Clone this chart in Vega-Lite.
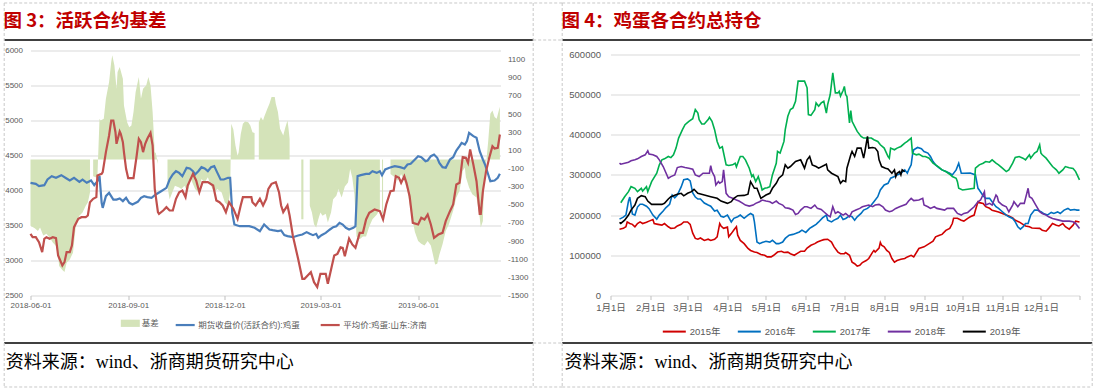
{
  "$schema": "https://vega.github.io/schema/vega-lite/v6.json",
  "background": "white",
  "padding": {"left": 2.5, "top": 1.5, "right": 1, "bottom": 0},
  "autosize": {"type": "pad"},
  "bounds": "flush",
  "spacing": 110,
  "resolve": {"scale": {"color": "independent", "fill": "independent", "stroke": "independent"}, "legend": {"color": "independent", "fill": "independent", "stroke": "independent"}},
  "config": {
    "view": {"stroke": null},
    "font": "Liberation Sans, Noto Sans CJK SC",
    "legend": {"padding": 0, "labelFont": "Liberation Sans, Noto Sans CJK SC"},
    "axis": {"labelFont": "Liberation Sans, Noto Sans CJK SC"}
  },
  "datasets": {
    "basis": [
      {"date": "2018-06-01", "basis": -730}, {"date": "2018-06-05", "basis": -760}, {"date": "2018-06-08", "basis": -790}, {"date": "2018-06-10", "basis": -750},
      {"date": "2018-06-13", "basis": -840}, {"date": "2018-06-16", "basis": -820}, {"date": "2018-06-19", "basis": -860}, {"date": "2018-06-22", "basis": -917},
      {"date": "2018-06-25", "basis": -954}, {"date": "2018-06-27", "basis": -1065}, {"date": "2018-06-28", "basis": -1176}, {"date": "2018-07-01", "basis": -1220},
      {"date": "2018-07-03", "basis": -1242}, {"date": "2018-07-05", "basis": -1139}, {"date": "2018-07-08", "basis": -1102}, {"date": "2018-07-11", "basis": -1028},
      {"date": "2018-07-14", "basis": -696}, {"date": "2018-07-17", "basis": -622}, {"date": "2018-07-20", "basis": -585}, {"date": "2018-07-23", "basis": -512},
      {"date": "2018-07-25", "basis": -475}, {"date": "2018-07-27", "basis": -364}, {"date": "2018-07-28", "basis": null}, {"date": "2018-07-29", "basis": null},
      {"date": "2018-07-30", "basis": -185}, {"date": "2018-08-02", "basis": -200}, {"date": "2018-08-03", "basis": -190}, {"date": "2018-08-05", "basis": 447},
      {"date": "2018-08-06", "basis": 429}, {"date": "2018-08-09", "basis": 447}, {"date": "2018-08-11", "basis": 669}, {"date": "2018-08-14", "basis": 853},
      {"date": "2018-08-16", "basis": 1074}, {"date": "2018-08-17", "basis": 1148}, {"date": "2018-08-19", "basis": 1037}, {"date": "2018-08-21", "basis": 779},
      {"date": "2018-08-22", "basis": 963}, {"date": "2018-08-24", "basis": 1019}, {"date": "2018-08-27", "basis": 890}, {"date": "2018-08-28", "basis": 595},
      {"date": "2018-08-31", "basis": 410}, {"date": "2018-09-02", "basis": 355}, {"date": "2018-09-04", "basis": 373}, {"date": "2018-09-06", "basis": 521},
      {"date": "2018-09-08", "basis": 742}, {"date": "2018-09-11", "basis": 908}, {"date": "2018-09-13", "basis": 669}, {"date": "2018-09-15", "basis": 779},
      {"date": "2018-09-18", "basis": 816}, {"date": "2018-09-20", "basis": 908}, {"date": "2018-09-22", "basis": 816}, {"date": "2018-09-24", "basis": 521},
      {"date": "2018-09-26", "basis": 78}, {"date": "2018-09-27", "basis": 70}, {"date": "2018-09-29", "basis": -52}, {"date": "2018-09-30", "basis": null},
      {"date": "2018-10-07", "basis": null}, {"date": "2018-10-08", "basis": -300}, {"date": "2018-10-10", "basis": -438}, {"date": "2018-10-15", "basis": -290},
      {"date": "2018-10-19", "basis": -310}, {"date": "2018-10-21", "basis": -327}, {"date": "2018-10-24", "basis": -290}, {"date": "2018-10-27", "basis": -364},
      {"date": "2018-10-30", "basis": -217}, {"date": "2018-11-03", "basis": -327}, {"date": "2018-11-06", "basis": -364}, {"date": "2018-11-09", "basis": -217},
      {"date": "2018-11-12", "basis": -254}, {"date": "2018-11-15", "basis": -198}, {"date": "2018-11-18", "basis": -290}, {"date": "2018-11-21", "basis": -364},
      {"date": "2018-11-24", "basis": -327}, {"date": "2018-11-28", "basis": -364}, {"date": "2018-12-01", "basis": -475}, {"date": "2018-12-04", "basis": -512},
      {"date": "2018-12-06", "basis": -364}, {"date": "2018-12-07", "basis": 392}, {"date": "2018-12-09", "basis": 330}, {"date": "2018-12-11", "basis": 152},
      {"date": "2018-12-13", "basis": 41}, {"date": "2018-12-14", "basis": 80}, {"date": "2018-12-16", "basis": 281}, {"date": "2018-12-18", "basis": 392},
      {"date": "2018-12-20", "basis": 418}, {"date": "2018-12-23", "basis": 410}, {"date": "2018-12-25", "basis": 373}, {"date": "2018-12-27", "basis": 300},
      {"date": "2018-12-29", "basis": 290}, {"date": "2018-12-30", "basis": null}, {"date": "2019-01-01", "basis": null}, {"date": "2019-01-02", "basis": 410},
      {"date": "2019-01-04", "basis": 466}, {"date": "2019-01-06", "basis": 429}, {"date": "2019-01-07", "basis": 466}, {"date": "2019-01-10", "basis": 558},
      {"date": "2019-01-12", "basis": 613}, {"date": "2019-01-14", "basis": 687}, {"date": "2019-01-17", "basis": 687}, {"date": "2019-01-18", "basis": 613},
      {"date": "2019-01-20", "basis": 521}, {"date": "2019-01-22", "basis": 337}, {"date": "2019-01-25", "basis": 263}, {"date": "2019-01-27", "basis": 355},
      {"date": "2019-01-29", "basis": 429}, {"date": "2019-01-30", "basis": 337}, {"date": "2019-01-31", "basis": 226}, {"date": "2019-02-01", "basis": null},
      {"date": "2019-02-10", "basis": null}, {"date": "2019-02-11", "basis": -659}, {"date": "2019-02-13", "basis": -659}, {"date": "2019-02-14", "basis": null},
      {"date": "2019-02-18", "basis": null}, {"date": "2019-02-19", "basis": -512}, {"date": "2019-02-21", "basis": -585}, {"date": "2019-02-23", "basis": -714},
      {"date": "2019-02-25", "basis": -751}, {"date": "2019-02-27", "basis": -659}, {"date": "2019-03-01", "basis": -585}, {"date": "2019-03-03", "basis": -622},
      {"date": "2019-03-06", "basis": -600}, {"date": "2019-03-08", "basis": -696}, {"date": "2019-03-11", "basis": -585}, {"date": "2019-03-13", "basis": -438},
      {"date": "2019-03-16", "basis": -400}, {"date": "2019-03-18", "basis": -327}, {"date": "2019-03-21", "basis": -420}, {"date": "2019-03-24", "basis": -300},
      {"date": "2019-03-27", "basis": -254}, {"date": "2019-03-29", "basis": -106}, {"date": "2019-03-31", "basis": -200}, {"date": "2019-04-02", "basis": -383},
      {"date": "2019-04-04", "basis": -850}, {"date": "2019-04-07", "basis": -880}, {"date": "2019-04-10", "basis": -850}, {"date": "2019-04-13", "basis": -850},
      {"date": "2019-04-16", "basis": -740}, {"date": "2019-04-19", "basis": -660}, {"date": "2019-04-23", "basis": -610}, {"date": "2019-04-26", "basis": -550},
      {"date": "2019-04-27", "basis": null}, {"date": "2019-04-28", "basis": -600}, {"date": "2019-04-29", "basis": -600}, {"date": "2019-04-30", "basis": null},
      {"date": "2019-05-05", "basis": null}, {"date": "2019-05-06", "basis": -161}, {"date": "2019-05-10", "basis": -198}, {"date": "2019-05-13", "basis": -235},
      {"date": "2019-05-16", "basis": -161}, {"date": "2019-05-19", "basis": -235}, {"date": "2019-05-22", "basis": -346}, {"date": "2019-05-25", "basis": -567},
      {"date": "2019-05-29", "basis": -800}, {"date": "2019-06-01", "basis": -900}, {"date": "2019-06-04", "basis": -930}, {"date": "2019-06-07", "basis": -950},
      {"date": "2019-06-10", "basis": -900}, {"date": "2019-06-13", "basis": -950}, {"date": "2019-06-15", "basis": -1050}, {"date": "2019-06-17", "basis": -1157},
      {"date": "2019-06-19", "basis": -1150}, {"date": "2019-06-21", "basis": -1050}, {"date": "2019-06-24", "basis": -936}, {"date": "2019-06-27", "basis": -788},
      {"date": "2019-06-30", "basis": -714}, {"date": "2019-07-04", "basis": -567}, {"date": "2019-07-07", "basis": -419}, {"date": "2019-07-10", "basis": -346},
      {"date": "2019-07-13", "basis": -124}, {"date": "2019-07-15", "basis": -90}, {"date": "2019-07-16", "basis": -198}, {"date": "2019-07-19", "basis": -309},
      {"date": "2019-07-22", "basis": -383}, {"date": "2019-07-26", "basis": -419}, {"date": "2019-07-29", "basis": -641}, {"date": "2019-07-30", "basis": -751},
      {"date": "2019-08-01", "basis": -680}, {"date": "2019-08-02", "basis": -235}, {"date": "2019-08-04", "basis": -50}, {"date": "2019-08-06", "basis": 200},
      {"date": "2019-08-08", "basis": 503}, {"date": "2019-08-10", "basis": 540}, {"date": "2019-08-12", "basis": 466}, {"date": "2019-08-14", "basis": 447},
      {"date": "2019-08-16", "basis": 540}, {"date": "2019-08-17", "basis": 580}
    ],
    "futures": [
      {"date": "2018-06-01", "price": 4110}, {"date": "2018-06-06", "price": 4095}, {"date": "2018-06-09", "price": 4062}, {"date": "2018-06-14", "price": 4076},
      {"date": "2018-06-17", "price": 4157}, {"date": "2018-06-21", "price": 4205}, {"date": "2018-06-25", "price": 4181}, {"date": "2018-06-30", "price": 4219},
      {"date": "2018-07-05", "price": 4171}, {"date": "2018-07-08", "price": 4143}, {"date": "2018-07-12", "price": 4181}, {"date": "2018-07-17", "price": 4124},
      {"date": "2018-07-20", "price": 4157}, {"date": "2018-07-24", "price": 4110}, {"date": "2018-07-28", "price": 4143}, {"date": "2018-07-31", "price": 4076},
      {"date": "2018-08-03", "price": 4133}, {"date": "2018-08-05", "price": 4205}, {"date": "2018-08-07", "price": 3824}, {"date": "2018-08-08", "price": 3752},
      {"date": "2018-08-11", "price": 3919}, {"date": "2018-08-14", "price": 3967}, {"date": "2018-08-18", "price": 3871}, {"date": "2018-08-21", "price": 3871},
      {"date": "2018-08-24", "price": 3886}, {"date": "2018-08-27", "price": 3848}, {"date": "2018-08-30", "price": 3895}, {"date": "2018-09-02", "price": 3824},
      {"date": "2018-09-05", "price": 3800}, {"date": "2018-09-10", "price": 3838}, {"date": "2018-09-13", "price": 3895}, {"date": "2018-09-16", "price": 3919},
      {"date": "2018-09-19", "price": 3905}, {"date": "2018-09-23", "price": 3895}, {"date": "2018-09-27", "price": 3943}, {"date": "2018-10-02", "price": 3990},
      {"date": "2018-10-07", "price": 4038}, {"date": "2018-10-10", "price": 4157}, {"date": "2018-10-13", "price": 4229}, {"date": "2018-10-16", "price": 4276},
      {"date": "2018-10-19", "price": 4252}, {"date": "2018-10-22", "price": 4205}, {"date": "2018-10-26", "price": 4324}, {"date": "2018-10-29", "price": 4314},
      {"date": "2018-11-01", "price": 4276}, {"date": "2018-11-03", "price": 4229}, {"date": "2018-11-06", "price": 4276}, {"date": "2018-11-09", "price": 4333},
      {"date": "2018-11-12", "price": 4314}, {"date": "2018-11-15", "price": 4276}, {"date": "2018-11-18", "price": 4333}, {"date": "2018-11-21", "price": 4348},
      {"date": "2018-11-24", "price": 4252}, {"date": "2018-11-27", "price": 4157}, {"date": "2018-11-30", "price": 4157}, {"date": "2018-12-04", "price": 4181},
      {"date": "2018-12-06", "price": 4181}, {"date": "2018-12-08", "price": 3681}, {"date": "2018-12-10", "price": 3514}, {"date": "2018-12-15", "price": 3490},
      {"date": "2018-12-20", "price": 3490}, {"date": "2018-12-24", "price": 3490}, {"date": "2018-12-29", "price": 3467}, {"date": "2019-01-03", "price": 3419},
      {"date": "2019-01-07", "price": 3514}, {"date": "2019-01-12", "price": 3443}, {"date": "2019-01-15", "price": 3433}, {"date": "2019-01-20", "price": 3419},
      {"date": "2019-01-23", "price": 3429}, {"date": "2019-01-26", "price": 3362}, {"date": "2019-01-29", "price": 3348}, {"date": "2019-02-03", "price": 3333},
      {"date": "2019-02-08", "price": 3357}, {"date": "2019-02-12", "price": 3371}, {"date": "2019-02-16", "price": 3405}, {"date": "2019-02-19", "price": 3381},
      {"date": "2019-02-22", "price": 3362}, {"date": "2019-02-25", "price": 3381}, {"date": "2019-02-27", "price": 3324}, {"date": "2019-03-02", "price": 3362},
      {"date": "2019-03-06", "price": 3395}, {"date": "2019-03-10", "price": 3443}, {"date": "2019-03-13", "price": 3476}, {"date": "2019-03-16", "price": 3490},
      {"date": "2019-03-19", "price": 3538}, {"date": "2019-03-22", "price": 3514}, {"date": "2019-03-25", "price": 3467}, {"date": "2019-03-28", "price": 3443},
      {"date": "2019-04-01", "price": 3467}, {"date": "2019-04-03", "price": 3490}, {"date": "2019-04-05", "price": 4205}, {"date": "2019-04-08", "price": 4219},
      {"date": "2019-04-13", "price": 4238}, {"date": "2019-04-16", "price": 4238}, {"date": "2019-04-19", "price": 4276}, {"date": "2019-04-23", "price": 4252},
      {"date": "2019-04-26", "price": 4276}, {"date": "2019-04-28", "price": 4219}, {"date": "2019-05-01", "price": 4300}, {"date": "2019-05-05", "price": 4324},
      {"date": "2019-05-10", "price": 4348}, {"date": "2019-05-15", "price": 4333}, {"date": "2019-05-19", "price": 4314}, {"date": "2019-05-22", "price": 4371},
      {"date": "2019-05-25", "price": 4381}, {"date": "2019-05-29", "price": 4443}, {"date": "2019-06-01", "price": 4490}, {"date": "2019-06-04", "price": 4476},
      {"date": "2019-06-08", "price": 4419}, {"date": "2019-06-10", "price": 4429}, {"date": "2019-06-13", "price": 4490}, {"date": "2019-06-16", "price": 4514},
      {"date": "2019-06-19", "price": 4467}, {"date": "2019-06-21", "price": 4395}, {"date": "2019-06-24", "price": 4333}, {"date": "2019-06-27", "price": 4324},
      {"date": "2019-07-01", "price": 4443}, {"date": "2019-07-04", "price": 4476}, {"date": "2019-07-07", "price": 4571}, {"date": "2019-07-10", "price": 4633},
      {"date": "2019-07-12", "price": 4681}, {"date": "2019-07-15", "price": 4657}, {"date": "2019-07-17", "price": 4705}, {"date": "2019-07-19", "price": 4824},
      {"date": "2019-07-23", "price": 4776}, {"date": "2019-07-26", "price": 4752}, {"date": "2019-07-29", "price": 4562}, {"date": "2019-08-01", "price": 4443},
      {"date": "2019-08-03", "price": 4371}, {"date": "2019-08-06", "price": 4229}, {"date": "2019-08-08", "price": 4133}, {"date": "2019-08-12", "price": 4143},
      {"date": "2019-08-15", "price": 4181}, {"date": "2019-08-17", "price": 4238}
    ],
    "spot": [
      {"date": "2018-06-01", "price": 3381}, {"date": "2018-06-03", "price": 3333}, {"date": "2018-06-06", "price": 3333}, {"date": "2018-06-09", "price": 3262},
      {"date": "2018-06-12", "price": 3119}, {"date": "2018-06-14", "price": 3310}, {"date": "2018-06-16", "price": 3333}, {"date": "2018-06-19", "price": 3310},
      {"date": "2018-06-22", "price": 3333}, {"date": "2018-06-25", "price": 3320}, {"date": "2018-06-27", "price": 3071}, {"date": "2018-06-29", "price": 3000},
      {"date": "2018-07-01", "price": 2929}, {"date": "2018-07-03", "price": 2976}, {"date": "2018-07-05", "price": 3119}, {"date": "2018-07-08", "price": 3119},
      {"date": "2018-07-10", "price": 3214}, {"date": "2018-07-12", "price": 3476}, {"date": "2018-07-16", "price": 3595}, {"date": "2018-07-19", "price": 3619},
      {"date": "2018-07-23", "price": 3619}, {"date": "2018-07-25", "price": 3643}, {"date": "2018-07-27", "price": 3833}, {"date": "2018-07-30", "price": 3881},
      {"date": "2018-08-02", "price": 3905}, {"date": "2018-08-03", "price": 4214}, {"date": "2018-08-07", "price": 4238}, {"date": "2018-08-08", "price": 4262},
      {"date": "2018-08-11", "price": 4548}, {"date": "2018-08-14", "price": 4786}, {"date": "2018-08-16", "price": 5000}, {"date": "2018-08-18", "price": 5000},
      {"date": "2018-08-20", "price": 4833}, {"date": "2018-08-21", "price": 4667}, {"date": "2018-08-24", "price": 4843}, {"date": "2018-08-25", "price": 4810},
      {"date": "2018-08-27", "price": 4690}, {"date": "2018-08-28", "price": 4548}, {"date": "2018-08-30", "price": 4310}, {"date": "2018-09-01", "price": 4176},
      {"date": "2018-09-04", "price": 4176}, {"date": "2018-09-06", "price": 4176}, {"date": "2018-09-09", "price": 4500}, {"date": "2018-09-11", "price": 4738},
      {"date": "2018-09-13", "price": 4690}, {"date": "2018-09-15", "price": 4548}, {"date": "2018-09-17", "price": 4667}, {"date": "2018-09-19", "price": 4738},
      {"date": "2018-09-22", "price": 4824}, {"date": "2018-09-24", "price": 4643}, {"date": "2018-09-26", "price": 4024}, {"date": "2018-09-29", "price": 3690},
      {"date": "2018-09-30", "price": 3667}, {"date": "2018-10-04", "price": 3714}, {"date": "2018-10-07", "price": 3762}, {"date": "2018-10-10", "price": 3714},
      {"date": "2018-10-13", "price": 3714}, {"date": "2018-10-16", "price": 3881}, {"date": "2018-10-19", "price": 3976}, {"date": "2018-10-22", "price": 4000},
      {"date": "2018-10-25", "price": 3905}, {"date": "2018-10-27", "price": 4071}, {"date": "2018-11-01", "price": 4238}, {"date": "2018-11-04", "price": 4143},
      {"date": "2018-11-07", "price": 3976}, {"date": "2018-11-10", "price": 4119}, {"date": "2018-11-15", "price": 4119}, {"date": "2018-11-20", "price": 4071},
      {"date": "2018-11-23", "price": 3857}, {"date": "2018-11-26", "price": 3833}, {"date": "2018-11-29", "price": 3786}, {"date": "2018-12-02", "price": 3690},
      {"date": "2018-12-05", "price": 3833}, {"date": "2018-12-09", "price": 3740}, {"date": "2018-12-13", "price": 3595}, {"date": "2018-12-16", "price": 3790},
      {"date": "2018-12-18", "price": 3905}, {"date": "2018-12-26", "price": 3905}, {"date": "2018-12-27", "price": 3833}, {"date": "2018-12-30", "price": 3786},
      {"date": "2019-01-03", "price": 3881}, {"date": "2019-01-06", "price": 3786}, {"date": "2019-01-09", "price": 3881}, {"date": "2019-01-11", "price": 4024},
      {"date": "2019-01-14", "price": 4095}, {"date": "2019-01-18", "price": 4119}, {"date": "2019-01-21", "price": 3976}, {"date": "2019-01-23", "price": 3786},
      {"date": "2019-01-25", "price": 3690}, {"date": "2019-01-29", "price": 3786}, {"date": "2019-01-31", "price": 3643}, {"date": "2019-02-03", "price": 3357},
      {"date": "2019-02-08", "price": 3024}, {"date": "2019-02-12", "price": 2738}, {"date": "2019-02-14", "price": 2738}, {"date": "2019-02-17", "price": 2786},
      {"date": "2019-02-20", "price": 2833}, {"date": "2019-02-23", "price": 2690}, {"date": "2019-02-26", "price": 2620}, {"date": "2019-03-01", "price": 2810},
      {"date": "2019-03-06", "price": 2810}, {"date": "2019-03-08", "price": 2667}, {"date": "2019-03-14", "price": 3071}, {"date": "2019-03-17", "price": 3095},
      {"date": "2019-03-20", "price": 3190}, {"date": "2019-03-22", "price": 3181}, {"date": "2019-03-24", "price": 3062}, {"date": "2019-03-28", "price": 3314},
      {"date": "2019-03-31", "price": 3229}, {"date": "2019-04-03", "price": 3181}, {"date": "2019-04-07", "price": 3395}, {"date": "2019-04-10", "price": 3395},
      {"date": "2019-04-13", "price": 3586}, {"date": "2019-04-16", "price": 3681}, {"date": "2019-04-21", "price": 3729}, {"date": "2019-04-26", "price": 3705},
      {"date": "2019-04-29", "price": 3586}, {"date": "2019-05-02", "price": 3800}, {"date": "2019-05-06", "price": 3990}, {"date": "2019-05-09", "price": 4000},
      {"date": "2019-05-11", "price": 4205}, {"date": "2019-05-14", "price": 4181}, {"date": "2019-05-16", "price": 4110}, {"date": "2019-05-19", "price": 4205},
      {"date": "2019-05-21", "price": 4110}, {"date": "2019-05-24", "price": 3919}, {"date": "2019-05-27", "price": 3538}, {"date": "2019-06-01", "price": 3514},
      {"date": "2019-06-04", "price": 3610}, {"date": "2019-06-07", "price": 3586}, {"date": "2019-06-10", "price": 3657}, {"date": "2019-06-13", "price": 3514},
      {"date": "2019-06-16", "price": 3324}, {"date": "2019-06-20", "price": 3371}, {"date": "2019-06-24", "price": 3395}, {"date": "2019-06-27", "price": 3562},
      {"date": "2019-07-01", "price": 3705}, {"date": "2019-07-04", "price": 3800}, {"date": "2019-07-07", "price": 4086}, {"date": "2019-07-10", "price": 4110},
      {"date": "2019-07-13", "price": 4476}, {"date": "2019-07-16", "price": 4467}, {"date": "2019-07-18", "price": 4395}, {"date": "2019-07-20", "price": 4586},
      {"date": "2019-07-23", "price": 4371}, {"date": "2019-07-26", "price": 4133}, {"date": "2019-07-29", "price": 3667}, {"date": "2019-07-30", "price": 3667},
      {"date": "2019-08-01", "price": 3990}, {"date": "2019-08-04", "price": 4276}, {"date": "2019-08-07", "price": 4467}, {"date": "2019-08-10", "price": 4633},
      {"date": "2019-08-12", "price": 4600}, {"date": "2019-08-15", "price": 4610}, {"date": "2019-08-17", "price": 4800}
    ],
    "oi": [
      {"date": "2015-01-08", "year": "2015年", "oi": 165000}, {"date": "2015-01-11", "year": "2015年", "oi": 167000}, {"date": "2015-01-13", "year": "2015年", "oi": 171000}, {"date": "2015-01-14", "year": "2015年", "oi": 183000},
      {"date": "2015-01-16", "year": "2015年", "oi": 179000}, {"date": "2015-01-18", "year": "2015年", "oi": 177000}, {"date": "2015-01-20", "year": "2015年", "oi": 171000}, {"date": "2015-01-22", "year": "2015年", "oi": 179000},
      {"date": "2015-01-24", "year": "2015年", "oi": 183000}, {"date": "2015-01-26", "year": "2015年", "oi": 179000}, {"date": "2015-01-29", "year": "2015年", "oi": 182000}, {"date": "2015-01-31", "year": "2015年", "oi": 185000},
      {"date": "2015-02-03", "year": "2015年", "oi": 189000}, {"date": "2015-02-04", "year": "2015年", "oi": 179000}, {"date": "2015-02-07", "year": "2015年", "oi": 177000}, {"date": "2015-02-10", "year": "2015年", "oi": 175000},
      {"date": "2015-02-12", "year": "2015年", "oi": 179000}, {"date": "2015-02-15", "year": "2015年", "oi": 171000}, {"date": "2015-02-17", "year": "2015年", "oi": 167000}, {"date": "2015-02-20", "year": "2015年", "oi": 168000},
      {"date": "2015-02-22", "year": "2015年", "oi": 173000}, {"date": "2015-02-25", "year": "2015年", "oi": 177000}, {"date": "2015-02-27", "year": "2015年", "oi": 183000}, {"date": "2015-03-01", "year": "2015年", "oi": 183000},
      {"date": "2015-03-03", "year": "2015年", "oi": 177000}, {"date": "2015-03-05", "year": "2015年", "oi": 155000}, {"date": "2015-03-07", "year": "2015年", "oi": 142000}, {"date": "2015-03-09", "year": "2015年", "oi": 140000},
      {"date": "2015-03-11", "year": "2015年", "oi": 143000}, {"date": "2015-03-14", "year": "2015年", "oi": 137000}, {"date": "2015-03-17", "year": "2015年", "oi": 140000}, {"date": "2015-03-19", "year": "2015年", "oi": 137000},
      {"date": "2015-03-22", "year": "2015年", "oi": 140000}, {"date": "2015-03-24", "year": "2015年", "oi": 146000}, {"date": "2015-03-26", "year": "2015年", "oi": 179000}, {"date": "2015-03-27", "year": "2015年", "oi": 173000},
      {"date": "2015-03-29", "year": "2015年", "oi": 167000}, {"date": "2015-04-01", "year": "2015年", "oi": 170000}, {"date": "2015-04-02", "year": "2015年", "oi": 146000}, {"date": "2015-04-04", "year": "2015年", "oi": 154000},
      {"date": "2015-04-06", "year": "2015年", "oi": 163000}, {"date": "2015-04-08", "year": "2015年", "oi": 171000}, {"date": "2015-04-09", "year": "2015年", "oi": 150000}, {"date": "2015-04-11", "year": "2015年", "oi": 137000},
      {"date": "2015-04-14", "year": "2015年", "oi": 129000}, {"date": "2015-04-17", "year": "2015年", "oi": 117000}, {"date": "2015-04-19", "year": "2015年", "oi": 112000}, {"date": "2015-04-22", "year": "2015年", "oi": 108000},
      {"date": "2015-04-24", "year": "2015年", "oi": 107000}, {"date": "2015-04-27", "year": "2015年", "oi": 102000}, {"date": "2015-04-30", "year": "2015年", "oi": 100000}, {"date": "2015-05-02", "year": "2015年", "oi": 96000},
      {"date": "2015-05-05", "year": "2015年", "oi": 96000}, {"date": "2015-05-07", "year": "2015年", "oi": 100000}, {"date": "2015-05-10", "year": "2015年", "oi": 108000}, {"date": "2015-05-13", "year": "2015年", "oi": 110000},
      {"date": "2015-05-15", "year": "2015年", "oi": 107000}, {"date": "2015-05-18", "year": "2015年", "oi": 108000}, {"date": "2015-05-20", "year": "2015年", "oi": 104000}, {"date": "2015-05-23", "year": "2015年", "oi": 100000},
      {"date": "2015-05-26", "year": "2015年", "oi": 106000}, {"date": "2015-05-28", "year": "2015年", "oi": 110000}, {"date": "2015-05-31", "year": "2015年", "oi": 110000}, {"date": "2015-06-02", "year": "2015年", "oi": 118000},
      {"date": "2015-06-05", "year": "2015年", "oi": 125000}, {"date": "2015-06-08", "year": "2015年", "oi": 129000}, {"date": "2015-06-10", "year": "2015年", "oi": 133000}, {"date": "2015-06-13", "year": "2015年", "oi": 137000},
      {"date": "2015-06-15", "year": "2015年", "oi": 139000}, {"date": "2015-06-18", "year": "2015年", "oi": 140000}, {"date": "2015-06-21", "year": "2015年", "oi": 133000}, {"date": "2015-06-23", "year": "2015年", "oi": 121000},
      {"date": "2015-06-26", "year": "2015年", "oi": 108000}, {"date": "2015-06-28", "year": "2015年", "oi": 104000}, {"date": "2015-07-01", "year": "2015年", "oi": 104000}, {"date": "2015-07-02", "year": "2015年", "oi": 107000},
      {"date": "2015-07-05", "year": "2015年", "oi": 100000}, {"date": "2015-07-07", "year": "2015年", "oi": 83000}, {"date": "2015-07-09", "year": "2015年", "oi": 79000}, {"date": "2015-07-11", "year": "2015年", "oi": 73000},
      {"date": "2015-07-13", "year": "2015年", "oi": 75000}, {"date": "2015-07-15", "year": "2015年", "oi": 82000}, {"date": "2015-07-18", "year": "2015年", "oi": 87000}, {"date": "2015-07-20", "year": "2015年", "oi": 92000},
      {"date": "2015-07-23", "year": "2015年", "oi": 108000}, {"date": "2015-07-24", "year": "2015年", "oi": 112000}, {"date": "2015-07-25", "year": "2015年", "oi": 108000}, {"date": "2015-07-28", "year": "2015年", "oi": 118000},
      {"date": "2015-07-29", "year": "2015年", "oi": 132000}, {"date": "2015-07-30", "year": "2015年", "oi": 125000}, {"date": "2015-08-01", "year": "2015年", "oi": 121000}, {"date": "2015-08-03", "year": "2015年", "oi": 112000},
      {"date": "2015-08-05", "year": "2015年", "oi": 107000}, {"date": "2015-08-07", "year": "2015年", "oi": 92000}, {"date": "2015-08-09", "year": "2015年", "oi": 83000}, {"date": "2015-08-11", "year": "2015年", "oi": 87000},
      {"date": "2015-08-14", "year": "2015年", "oi": 90000}, {"date": "2015-08-17", "year": "2015年", "oi": 92000}, {"date": "2015-08-19", "year": "2015年", "oi": 96000}, {"date": "2015-08-22", "year": "2015年", "oi": 100000},
      {"date": "2015-08-24", "year": "2015年", "oi": 96000}, {"date": "2015-08-28", "year": "2015年", "oi": 117000}, {"date": "2015-09-01", "year": "2015年", "oi": 121000}, {"date": "2015-09-05", "year": "2015年", "oi": 129000},
      {"date": "2015-09-08", "year": "2015年", "oi": 135000}, {"date": "2015-09-10", "year": "2015年", "oi": 146000}, {"date": "2015-09-13", "year": "2015年", "oi": 150000}, {"date": "2015-09-15", "year": "2015年", "oi": 152000},
      {"date": "2015-09-18", "year": "2015年", "oi": 162000}, {"date": "2015-09-21", "year": "2015年", "oi": 167000}, {"date": "2015-09-23", "year": "2015年", "oi": 179000}, {"date": "2015-09-24", "year": "2015年", "oi": 192000},
      {"date": "2015-09-27", "year": "2015年", "oi": 192000}, {"date": "2015-09-30", "year": "2015年", "oi": 187000}, {"date": "2015-10-02", "year": "2015年", "oi": 185000}, {"date": "2015-10-05", "year": "2015年", "oi": 192000},
      {"date": "2015-10-07", "year": "2015年", "oi": 196000}, {"date": "2015-10-10", "year": "2015年", "oi": 200000}, {"date": "2015-10-11", "year": "2015年", "oi": 212000}, {"date": "2015-10-13", "year": "2015年", "oi": 233000},
      {"date": "2015-10-14", "year": "2015年", "oi": 231000}, {"date": "2015-10-17", "year": "2015年", "oi": 229000}, {"date": "2015-10-19", "year": "2015年", "oi": 221000}, {"date": "2015-10-22", "year": "2015年", "oi": 217000},
      {"date": "2015-10-24", "year": "2015年", "oi": 212000}, {"date": "2015-10-29", "year": "2015年", "oi": 208000}, {"date": "2015-11-01", "year": "2015年", "oi": 204000}, {"date": "2015-11-04", "year": "2015年", "oi": 200000},
      {"date": "2015-11-06", "year": "2015年", "oi": 198000}, {"date": "2015-11-09", "year": "2015年", "oi": 193000}, {"date": "2015-11-11", "year": "2015年", "oi": 187000}, {"date": "2015-11-14", "year": "2015年", "oi": 183000},
      {"date": "2015-11-17", "year": "2015年", "oi": 177000}, {"date": "2015-11-19", "year": "2015年", "oi": 173000}, {"date": "2015-11-22", "year": "2015年", "oi": 171000}, {"date": "2015-11-24", "year": "2015年", "oi": 168000},
      {"date": "2015-11-30", "year": "2015年", "oi": 167000}, {"date": "2015-12-02", "year": "2015年", "oi": 162500}, {"date": "2015-12-05", "year": "2015年", "oi": 160000}, {"date": "2015-12-07", "year": "2015年", "oi": 167000},
      {"date": "2015-12-10", "year": "2015年", "oi": 179000}, {"date": "2015-12-13", "year": "2015年", "oi": 175000}, {"date": "2015-12-15", "year": "2015年", "oi": 173000}, {"date": "2015-12-18", "year": "2015年", "oi": 179000},
      {"date": "2015-12-20", "year": "2015年", "oi": 171000}, {"date": "2015-12-23", "year": "2015年", "oi": 165000}, {"date": "2015-12-26", "year": "2015年", "oi": 175000}, {"date": "2015-12-28", "year": "2015年", "oi": 185000},
      {"date": "2015-12-31", "year": "2015年", "oi": 183000},

      {"date": "2016-01-08", "year": "2016年", "oi": 190000}, {"date": "2016-01-11", "year": "2016年", "oi": 195000}, {"date": "2016-01-13", "year": "2016年", "oi": 200000}, {"date": "2016-01-15", "year": "2016年", "oi": 235000},
      {"date": "2016-01-16", "year": "2016年", "oi": 245000}, {"date": "2016-01-17", "year": "2016年", "oi": 225000}, {"date": "2016-01-18", "year": "2016年", "oi": 203000}, {"date": "2016-01-20", "year": "2016年", "oi": 200000},
      {"date": "2016-01-22", "year": "2016年", "oi": 220000}, {"date": "2016-01-24", "year": "2016年", "oi": 227000}, {"date": "2016-01-26", "year": "2016年", "oi": 227000}, {"date": "2016-01-29", "year": "2016年", "oi": 222000},
      {"date": "2016-01-31", "year": "2016年", "oi": 216000}, {"date": "2016-02-03", "year": "2016年", "oi": 200000}, {"date": "2016-02-06", "year": "2016年", "oi": 190000}, {"date": "2016-02-08", "year": "2016年", "oi": 200000},
      {"date": "2016-02-11", "year": "2016年", "oi": 210000}, {"date": "2016-02-13", "year": "2016年", "oi": 218000}, {"date": "2016-02-16", "year": "2016年", "oi": 227000}, {"date": "2016-02-18", "year": "2016年", "oi": 250000},
      {"date": "2016-02-20", "year": "2016年", "oi": 243000}, {"date": "2016-02-22", "year": "2016年", "oi": 250000}, {"date": "2016-02-25", "year": "2016年", "oi": 270000}, {"date": "2016-02-27", "year": "2016年", "oi": 288000},
      {"date": "2016-03-01", "year": "2016年", "oi": 290000}, {"date": "2016-03-03", "year": "2016年", "oi": 285000}, {"date": "2016-03-05", "year": "2016年", "oi": 255000}, {"date": "2016-03-07", "year": "2016年", "oi": 245000},
      {"date": "2016-03-09", "year": "2016年", "oi": 240000}, {"date": "2016-03-11", "year": "2016年", "oi": 240000}, {"date": "2016-03-14", "year": "2016年", "oi": 230000}, {"date": "2016-03-17", "year": "2016年", "oi": 225000},
      {"date": "2016-03-19", "year": "2016年", "oi": 222000}, {"date": "2016-03-22", "year": "2016年", "oi": 210000}, {"date": "2016-03-24", "year": "2016年", "oi": 212000}, {"date": "2016-03-27", "year": "2016年", "oi": 197000},
      {"date": "2016-03-29", "year": "2016年", "oi": 195000}, {"date": "2016-04-01", "year": "2016年", "oi": 200000}, {"date": "2016-04-04", "year": "2016年", "oi": 183000}, {"date": "2016-04-06", "year": "2016年", "oi": 192000},
      {"date": "2016-04-09", "year": "2016年", "oi": 196000}, {"date": "2016-04-11", "year": "2016年", "oi": 200000}, {"date": "2016-04-14", "year": "2016年", "oi": 192000}, {"date": "2016-04-17", "year": "2016年", "oi": 200000},
      {"date": "2016-04-19", "year": "2016年", "oi": 204000}, {"date": "2016-04-21", "year": "2016年", "oi": 200000}, {"date": "2016-04-22", "year": "2016年", "oi": 183000}, {"date": "2016-04-24", "year": "2016年", "oi": 133000},
      {"date": "2016-04-26", "year": "2016年", "oi": 129000}, {"date": "2016-04-28", "year": "2016年", "oi": 132000}, {"date": "2016-05-01", "year": "2016年", "oi": 135000}, {"date": "2016-05-04", "year": "2016年", "oi": 133000},
      {"date": "2016-05-06", "year": "2016年", "oi": 137500}, {"date": "2016-05-09", "year": "2016年", "oi": 129000}, {"date": "2016-05-11", "year": "2016年", "oi": 129000}, {"date": "2016-05-14", "year": "2016年", "oi": 133000},
      {"date": "2016-05-16", "year": "2016年", "oi": 142000}, {"date": "2016-05-19", "year": "2016年", "oi": 150000}, {"date": "2016-05-22", "year": "2016年", "oi": 152000}, {"date": "2016-05-24", "year": "2016年", "oi": 154000},
      {"date": "2016-05-27", "year": "2016年", "oi": 158000}, {"date": "2016-05-29", "year": "2016年", "oi": 162500}, {"date": "2016-06-01", "year": "2016年", "oi": 157000}, {"date": "2016-06-04", "year": "2016年", "oi": 167000},
      {"date": "2016-06-06", "year": "2016年", "oi": 171000}, {"date": "2016-06-09", "year": "2016年", "oi": 177000}, {"date": "2016-06-11", "year": "2016年", "oi": 183000}, {"date": "2016-06-14", "year": "2016年", "oi": 193000},
      {"date": "2016-06-17", "year": "2016年", "oi": 200000}, {"date": "2016-06-18", "year": "2016年", "oi": 187500}, {"date": "2016-06-21", "year": "2016年", "oi": 183000}, {"date": "2016-06-23", "year": "2016年", "oi": 187500},
      {"date": "2016-06-26", "year": "2016年", "oi": 192000}, {"date": "2016-06-28", "year": "2016年", "oi": 200000}, {"date": "2016-06-30", "year": "2016年", "oi": 189000}, {"date": "2016-07-02", "year": "2016年", "oi": 191700},
      {"date": "2016-07-05", "year": "2016年", "oi": 198300}, {"date": "2016-07-07", "year": "2016年", "oi": 196000}, {"date": "2016-07-09", "year": "2016年", "oi": 187500}, {"date": "2016-07-11", "year": "2016年", "oi": 195800},
      {"date": "2016-07-14", "year": "2016年", "oi": 204200}, {"date": "2016-07-16", "year": "2016年", "oi": 212500}, {"date": "2016-07-19", "year": "2016年", "oi": 216700}, {"date": "2016-07-22", "year": "2016年", "oi": 225000},
      {"date": "2016-07-24", "year": "2016年", "oi": 233300}, {"date": "2016-07-27", "year": "2016年", "oi": 245800}, {"date": "2016-07-29", "year": "2016年", "oi": 262500}, {"date": "2016-08-01", "year": "2016年", "oi": 275000},
      {"date": "2016-08-04", "year": "2016年", "oi": 279200}, {"date": "2016-08-06", "year": "2016年", "oi": 291700}, {"date": "2016-08-09", "year": "2016年", "oi": 295800}, {"date": "2016-08-11", "year": "2016年", "oi": 300000},
      {"date": "2016-08-14", "year": "2016年", "oi": 304200}, {"date": "2016-08-17", "year": "2016年", "oi": 312500}, {"date": "2016-08-19", "year": "2016年", "oi": 304200}, {"date": "2016-08-20", "year": "2016年", "oi": 312500},
      {"date": "2016-08-22", "year": "2016年", "oi": 325000}, {"date": "2016-08-23", "year": "2016年", "oi": 350000}, {"date": "2016-08-24", "year": "2016年", "oi": 362500}, {"date": "2016-08-27", "year": "2016年", "oi": 368300},
      {"date": "2016-08-30", "year": "2016年", "oi": 365000}, {"date": "2016-09-01", "year": "2016年", "oi": 358300}, {"date": "2016-09-04", "year": "2016年", "oi": 354200}, {"date": "2016-09-06", "year": "2016年", "oi": 345800},
      {"date": "2016-09-08", "year": "2016年", "oi": 333300}, {"date": "2016-09-10", "year": "2016年", "oi": 325000}, {"date": "2016-09-13", "year": "2016年", "oi": 316700}, {"date": "2016-09-15", "year": "2016年", "oi": 312500},
      {"date": "2016-09-18", "year": "2016年", "oi": 308300}, {"date": "2016-09-21", "year": "2016年", "oi": 304200}, {"date": "2016-09-23", "year": "2016年", "oi": 300000}, {"date": "2016-09-26", "year": "2016年", "oi": 312500},
      {"date": "2016-09-28", "year": "2016年", "oi": 329000}, {"date": "2016-09-30", "year": "2016年", "oi": 304200}, {"date": "2016-10-02", "year": "2016年", "oi": 304200}, {"date": "2016-10-07", "year": "2016年", "oi": 304800},
      {"date": "2016-10-11", "year": "2016年", "oi": 300000}, {"date": "2016-10-13", "year": "2016年", "oi": 266700}, {"date": "2016-10-14", "year": "2016年", "oi": 262500}, {"date": "2016-10-17", "year": "2016年", "oi": 248300},
      {"date": "2016-10-19", "year": "2016年", "oi": 241700}, {"date": "2016-10-22", "year": "2016年", "oi": 241700}, {"date": "2016-10-24", "year": "2016年", "oi": 233300}, {"date": "2016-10-27", "year": "2016年", "oi": 220800},
      {"date": "2016-10-29", "year": "2016年", "oi": 216700}, {"date": "2016-11-01", "year": "2016年", "oi": 208300}, {"date": "2016-11-04", "year": "2016年", "oi": 200000}, {"date": "2016-11-06", "year": "2016年", "oi": 195800},
      {"date": "2016-11-09", "year": "2016年", "oi": 191700}, {"date": "2016-11-11", "year": "2016年", "oi": 183300}, {"date": "2016-11-13", "year": "2016年", "oi": 170800}, {"date": "2016-11-15", "year": "2016年", "oi": 165000},
      {"date": "2016-11-17", "year": "2016年", "oi": 170800}, {"date": "2016-11-19", "year": "2016年", "oi": 179000}, {"date": "2016-11-21", "year": "2016年", "oi": 179000}, {"date": "2016-11-23", "year": "2016年", "oi": 200000},
      {"date": "2016-11-26", "year": "2016年", "oi": 212500}, {"date": "2016-11-28", "year": "2016年", "oi": 212500}, {"date": "2016-12-01", "year": "2016年", "oi": 208300}, {"date": "2016-12-03", "year": "2016年", "oi": 204200},
      {"date": "2016-12-06", "year": "2016年", "oi": 200000}, {"date": "2016-12-09", "year": "2016年", "oi": 206700}, {"date": "2016-12-11", "year": "2016年", "oi": 204000}, {"date": "2016-12-14", "year": "2016年", "oi": 208000},
      {"date": "2016-12-16", "year": "2016年", "oi": 204000}, {"date": "2016-12-19", "year": "2016年", "oi": 212500}, {"date": "2016-12-22", "year": "2016年", "oi": 216700}, {"date": "2016-12-24", "year": "2016年", "oi": 212500},
      {"date": "2016-12-27", "year": "2016年", "oi": 214000}, {"date": "2016-12-29", "year": "2016年", "oi": 212500}, {"date": "2016-12-31", "year": "2016年", "oi": 212500},

      {"date": "2017-01-09", "year": "2017年", "oi": 230800}, {"date": "2017-01-12", "year": "2017年", "oi": 245800}, {"date": "2017-01-15", "year": "2017年", "oi": 258300}, {"date": "2017-01-17", "year": "2017年", "oi": 270800},
      {"date": "2017-01-20", "year": "2017年", "oi": 266700}, {"date": "2017-01-22", "year": "2017年", "oi": 258300}, {"date": "2017-01-25", "year": "2017年", "oi": 266700}, {"date": "2017-01-26", "year": "2017年", "oi": 260000},
      {"date": "2017-01-29", "year": "2017年", "oi": 270800}, {"date": "2017-01-30", "year": "2017年", "oi": 258300}, {"date": "2017-02-02", "year": "2017年", "oi": 283300}, {"date": "2017-02-06", "year": "2017年", "oi": 304200},
      {"date": "2017-02-08", "year": "2017年", "oi": 325000}, {"date": "2017-02-10", "year": "2017年", "oi": 337500}, {"date": "2017-02-12", "year": "2017年", "oi": 340000}, {"date": "2017-02-15", "year": "2017年", "oi": 345800},
      {"date": "2017-02-17", "year": "2017年", "oi": 343000}, {"date": "2017-02-19", "year": "2017年", "oi": 350000}, {"date": "2017-02-21", "year": "2017年", "oi": 366700}, {"date": "2017-02-23", "year": "2017年", "oi": 391700},
      {"date": "2017-02-26", "year": "2017年", "oi": 412500}, {"date": "2017-02-28", "year": "2017年", "oi": 425000}, {"date": "2017-03-02", "year": "2017年", "oi": 433300}, {"date": "2017-03-05", "year": "2017年", "oi": 440000},
      {"date": "2017-03-07", "year": "2017年", "oi": 462500}, {"date": "2017-03-09", "year": "2017年", "oi": 454000}, {"date": "2017-03-10", "year": "2017年", "oi": 437500}, {"date": "2017-03-12", "year": "2017年", "oi": 426700},
      {"date": "2017-03-14", "year": "2017年", "oi": 426700}, {"date": "2017-03-17", "year": "2017年", "oi": 437500}, {"date": "2017-03-18", "year": "2017年", "oi": 443300}, {"date": "2017-03-20", "year": "2017年", "oi": 433300},
      {"date": "2017-03-22", "year": "2017年", "oi": 412500}, {"date": "2017-03-24", "year": "2017年", "oi": 383300}, {"date": "2017-03-26", "year": "2017年", "oi": 366700}, {"date": "2017-03-28", "year": "2017年", "oi": 370000},
      {"date": "2017-03-31", "year": "2017年", "oi": 325000}, {"date": "2017-04-02", "year": "2017年", "oi": 323300}, {"date": "2017-04-05", "year": "2017年", "oi": 325000}, {"date": "2017-04-07", "year": "2017年", "oi": 329000},
      {"date": "2017-04-08", "year": "2017年", "oi": 320000}, {"date": "2017-04-10", "year": "2017年", "oi": 337500}, {"date": "2017-04-11", "year": "2017年", "oi": 345800}, {"date": "2017-04-13", "year": "2017年", "oi": 345800},
      {"date": "2017-04-15", "year": "2017年", "oi": 337500}, {"date": "2017-04-18", "year": "2017年", "oi": 316700}, {"date": "2017-04-20", "year": "2017年", "oi": 295800}, {"date": "2017-04-21", "year": "2017年", "oi": 300000},
      {"date": "2017-04-23", "year": "2017年", "oi": 283300}, {"date": "2017-04-25", "year": "2017年", "oi": 295800}, {"date": "2017-04-27", "year": "2017年", "oi": 275000}, {"date": "2017-04-28", "year": "2017年", "oi": 262500},
      {"date": "2017-04-30", "year": "2017年", "oi": 266700}, {"date": "2017-05-02", "year": "2017年", "oi": 268300}, {"date": "2017-05-04", "year": "2017年", "oi": 270800}, {"date": "2017-05-06", "year": "2017年", "oi": 300000},
      {"date": "2017-05-09", "year": "2017年", "oi": 329000}, {"date": "2017-05-10", "year": "2017年", "oi": 358300}, {"date": "2017-05-12", "year": "2017年", "oi": 354200}, {"date": "2017-05-15", "year": "2017年", "oi": 383300},
      {"date": "2017-05-16", "year": "2017年", "oi": 412500}, {"date": "2017-05-18", "year": "2017年", "oi": 445800}, {"date": "2017-05-20", "year": "2017年", "oi": 462500}, {"date": "2017-05-22", "year": "2017年", "oi": 466700},
      {"date": "2017-05-24", "year": "2017年", "oi": 483300}, {"date": "2017-05-26", "year": "2017年", "oi": 533300}, {"date": "2017-05-31", "year": "2017年", "oi": 533300}, {"date": "2017-06-02", "year": "2017年", "oi": 516700},
      {"date": "2017-06-03", "year": "2017年", "oi": 450000}, {"date": "2017-06-05", "year": "2017年", "oi": 448000}, {"date": "2017-06-08", "year": "2017年", "oi": 462500}, {"date": "2017-06-09", "year": "2017年", "oi": 479000},
      {"date": "2017-06-11", "year": "2017年", "oi": 471000}, {"date": "2017-06-13", "year": "2017年", "oi": 479000}, {"date": "2017-06-15", "year": "2017年", "oi": 483300}, {"date": "2017-06-17", "year": "2017年", "oi": 454000},
      {"date": "2017-06-18", "year": "2017年", "oi": 475000}, {"date": "2017-06-20", "year": "2017年", "oi": 500000}, {"date": "2017-06-22", "year": "2017年", "oi": 554000}, {"date": "2017-06-24", "year": "2017年", "oi": 504000},
      {"date": "2017-06-26", "year": "2017年", "oi": 504000}, {"date": "2017-06-27", "year": "2017年", "oi": 508000}, {"date": "2017-06-28", "year": "2017年", "oi": 496000}, {"date": "2017-06-30", "year": "2017年", "oi": 510000},
      {"date": "2017-07-01", "year": "2017年", "oi": 520000}, {"date": "2017-07-02", "year": "2017年", "oi": 500000}, {"date": "2017-07-03", "year": "2017年", "oi": 495000}, {"date": "2017-07-05", "year": "2017年", "oi": 429200},
      {"date": "2017-07-06", "year": "2017年", "oi": 460000}, {"date": "2017-07-07", "year": "2017年", "oi": 433300}, {"date": "2017-07-09", "year": "2017年", "oi": 420800}, {"date": "2017-07-11", "year": "2017年", "oi": 408300},
      {"date": "2017-07-14", "year": "2017年", "oi": 395800}, {"date": "2017-07-16", "year": "2017年", "oi": 391700}, {"date": "2017-07-22", "year": "2017年", "oi": 391700}, {"date": "2017-07-24", "year": "2017年", "oi": 387500},
      {"date": "2017-07-27", "year": "2017年", "oi": 383300}, {"date": "2017-07-29", "year": "2017年", "oi": 375000}, {"date": "2017-08-01", "year": "2017年", "oi": 366700}, {"date": "2017-08-04", "year": "2017年", "oi": 345800},
      {"date": "2017-08-05", "year": "2017年", "oi": 341700}, {"date": "2017-08-06", "year": "2017年", "oi": 366700}, {"date": "2017-08-09", "year": "2017年", "oi": 362500}, {"date": "2017-08-11", "year": "2017年", "oi": 366700},
      {"date": "2017-08-14", "year": "2017年", "oi": 370800}, {"date": "2017-08-17", "year": "2017年", "oi": 379200}, {"date": "2017-08-19", "year": "2017年", "oi": 383300}, {"date": "2017-08-22", "year": "2017年", "oi": 391700},
      {"date": "2017-08-23", "year": "2017年", "oi": 354200}, {"date": "2017-08-26", "year": "2017年", "oi": 350000}, {"date": "2017-08-28", "year": "2017年", "oi": 351700}, {"date": "2017-08-31", "year": "2017年", "oi": 345800},
      {"date": "2017-09-02", "year": "2017年", "oi": 345800}, {"date": "2017-09-05", "year": "2017年", "oi": 341700}, {"date": "2017-09-08", "year": "2017年", "oi": 329200}, {"date": "2017-09-10", "year": "2017年", "oi": 325000},
      {"date": "2017-09-13", "year": "2017年", "oi": 318300}, {"date": "2017-09-15", "year": "2017年", "oi": 312500}, {"date": "2017-09-18", "year": "2017年", "oi": 308300}, {"date": "2017-09-21", "year": "2017年", "oi": 301700},
      {"date": "2017-09-23", "year": "2017年", "oi": 295800}, {"date": "2017-09-26", "year": "2017年", "oi": 291700}, {"date": "2017-09-27", "year": "2017年", "oi": 283300}, {"date": "2017-09-28", "year": "2017年", "oi": 266700},
      {"date": "2017-10-01", "year": "2017年", "oi": 262500}, {"date": "2017-10-10", "year": "2017年", "oi": 266700}, {"date": "2017-10-11", "year": "2017年", "oi": 316700}, {"date": "2017-10-14", "year": "2017年", "oi": 325000},
      {"date": "2017-10-17", "year": "2017年", "oi": 329200}, {"date": "2017-10-19", "year": "2017年", "oi": 333300}, {"date": "2017-10-22", "year": "2017年", "oi": 331700}, {"date": "2017-10-24", "year": "2017年", "oi": 337500},
      {"date": "2017-10-27", "year": "2017年", "oi": 329200}, {"date": "2017-10-29", "year": "2017年", "oi": 325000}, {"date": "2017-11-01", "year": "2017年", "oi": 316700}, {"date": "2017-11-04", "year": "2017年", "oi": 308300},
      {"date": "2017-11-06", "year": "2017年", "oi": 312500}, {"date": "2017-11-09", "year": "2017年", "oi": 329200}, {"date": "2017-11-11", "year": "2017年", "oi": 343300}, {"date": "2017-11-14", "year": "2017年", "oi": 345800},
      {"date": "2017-11-17", "year": "2017年", "oi": 341700}, {"date": "2017-11-19", "year": "2017年", "oi": 337500}, {"date": "2017-11-22", "year": "2017年", "oi": 350000}, {"date": "2017-11-23", "year": "2017年", "oi": 341700},
      {"date": "2017-11-26", "year": "2017年", "oi": 354200}, {"date": "2017-11-28", "year": "2017年", "oi": 358300}, {"date": "2017-11-30", "year": "2017年", "oi": 375000}, {"date": "2017-12-01", "year": "2017年", "oi": 354200},
      {"date": "2017-12-02", "year": "2017年", "oi": 350000}, {"date": "2017-12-05", "year": "2017年", "oi": 341700}, {"date": "2017-12-07", "year": "2017年", "oi": 333300}, {"date": "2017-12-10", "year": "2017年", "oi": 320800},
      {"date": "2017-12-13", "year": "2017年", "oi": 312500}, {"date": "2017-12-15", "year": "2017年", "oi": 304200}, {"date": "2017-12-18", "year": "2017年", "oi": 312500}, {"date": "2017-12-20", "year": "2017年", "oi": 320800},
      {"date": "2017-12-23", "year": "2017年", "oi": 318000}, {"date": "2017-12-26", "year": "2017年", "oi": 316000}, {"date": "2017-12-28", "year": "2017年", "oi": 308300}, {"date": "2017-12-31", "year": "2017年", "oi": 287500},

      {"date": "2018-01-08", "year": "2018年", "oi": 329200}, {"date": "2018-01-09", "year": "2018年", "oi": 326700}, {"date": "2018-01-12", "year": "2018年", "oi": 329200}, {"date": "2018-01-15", "year": "2018年", "oi": 331700},
      {"date": "2018-01-17", "year": "2018年", "oi": 335000}, {"date": "2018-01-20", "year": "2018年", "oi": 337500}, {"date": "2018-01-22", "year": "2018年", "oi": 340000}, {"date": "2018-01-25", "year": "2018年", "oi": 345800},
      {"date": "2018-01-28", "year": "2018年", "oi": 350000}, {"date": "2018-01-30", "year": "2018年", "oi": 360000}, {"date": "2018-01-31", "year": "2018年", "oi": 351700}, {"date": "2018-02-03", "year": "2018年", "oi": 350000},
      {"date": "2018-02-06", "year": "2018年", "oi": 345800}, {"date": "2018-02-08", "year": "2018年", "oi": 337500}, {"date": "2018-02-11", "year": "2018年", "oi": 320800}, {"date": "2018-02-15", "year": "2018年", "oi": 291700},
      {"date": "2018-02-17", "year": "2018年", "oi": 295800}, {"date": "2018-02-20", "year": "2018年", "oi": 300000}, {"date": "2018-02-22", "year": "2018年", "oi": 318300}, {"date": "2018-02-25", "year": "2018年", "oi": 320800},
      {"date": "2018-02-28", "year": "2018年", "oi": 318300}, {"date": "2018-03-02", "year": "2018年", "oi": 316700}, {"date": "2018-03-05", "year": "2018年", "oi": 314000}, {"date": "2018-03-07", "year": "2018年", "oi": 300000},
      {"date": "2018-03-10", "year": "2018年", "oi": 295800}, {"date": "2018-03-13", "year": "2018年", "oi": 304200}, {"date": "2018-03-15", "year": "2018年", "oi": 304200}, {"date": "2018-03-18", "year": "2018年", "oi": 304200},
      {"date": "2018-03-19", "year": "2018年", "oi": 323300}, {"date": "2018-03-20", "year": "2018年", "oi": 308300}, {"date": "2018-03-22", "year": "2018年", "oi": 295800}, {"date": "2018-03-23", "year": "2018年", "oi": 275000},
      {"date": "2018-03-25", "year": "2018年", "oi": 283300}, {"date": "2018-03-26", "year": "2018年", "oi": 279200}, {"date": "2018-03-28", "year": "2018年", "oi": 283300}, {"date": "2018-03-29", "year": "2018年", "oi": 312500},
      {"date": "2018-03-31", "year": "2018年", "oi": 254200}, {"date": "2018-04-02", "year": "2018年", "oi": 245800}, {"date": "2018-04-05", "year": "2018年", "oi": 241700}, {"date": "2018-04-08", "year": "2018年", "oi": 237500},
      {"date": "2018-04-10", "year": "2018年", "oi": 235000}, {"date": "2018-04-13", "year": "2018年", "oi": 229200}, {"date": "2018-04-15", "year": "2018年", "oi": 225000}, {"date": "2018-04-18", "year": "2018年", "oi": 222500},
      {"date": "2018-04-21", "year": "2018年", "oi": 225000}, {"date": "2018-04-23", "year": "2018年", "oi": 229200}, {"date": "2018-04-26", "year": "2018年", "oi": 233300}, {"date": "2018-04-28", "year": "2018年", "oi": 237500},
      {"date": "2018-05-01", "year": "2018年", "oi": 235000}, {"date": "2018-05-04", "year": "2018年", "oi": 233300}, {"date": "2018-05-06", "year": "2018年", "oi": 229200}, {"date": "2018-05-09", "year": "2018年", "oi": 235000},
      {"date": "2018-05-11", "year": "2018年", "oi": 229200}, {"date": "2018-05-14", "year": "2018年", "oi": 225000}, {"date": "2018-05-16", "year": "2018年", "oi": 218300}, {"date": "2018-05-19", "year": "2018年", "oi": 216700},
      {"date": "2018-05-22", "year": "2018年", "oi": 212500}, {"date": "2018-05-24", "year": "2018年", "oi": 201700}, {"date": "2018-05-26", "year": "2018年", "oi": 204200}, {"date": "2018-05-28", "year": "2018年", "oi": 212500},
      {"date": "2018-05-31", "year": "2018年", "oi": 220800}, {"date": "2018-06-02", "year": "2018年", "oi": 220800}, {"date": "2018-06-05", "year": "2018年", "oi": 216700}, {"date": "2018-06-08", "year": "2018年", "oi": 225000},
      {"date": "2018-06-10", "year": "2018年", "oi": 216700}, {"date": "2018-06-13", "year": "2018年", "oi": 214000}, {"date": "2018-06-15", "year": "2018年", "oi": 208300}, {"date": "2018-06-18", "year": "2018年", "oi": 200000},
      {"date": "2018-06-20", "year": "2018年", "oi": 195800}, {"date": "2018-06-22", "year": "2018年", "oi": 220800}, {"date": "2018-06-24", "year": "2018年", "oi": 204200}, {"date": "2018-06-26", "year": "2018年", "oi": 208300},
      {"date": "2018-06-28", "year": "2018年", "oi": 204200}, {"date": "2018-06-30", "year": "2018年", "oi": 200000}, {"date": "2018-07-02", "year": "2018年", "oi": 204000}, {"date": "2018-07-05", "year": "2018年", "oi": 195800},
      {"date": "2018-07-07", "year": "2018年", "oi": 208300}, {"date": "2018-07-10", "year": "2018年", "oi": 212500}, {"date": "2018-07-13", "year": "2018年", "oi": 216700}, {"date": "2018-07-15", "year": "2018年", "oi": 220800},
      {"date": "2018-07-20", "year": "2018年", "oi": 225000}, {"date": "2018-07-23", "year": "2018年", "oi": 221000}, {"date": "2018-07-25", "year": "2018年", "oi": 225000}, {"date": "2018-07-28", "year": "2018年", "oi": 226700},
      {"date": "2018-07-31", "year": "2018年", "oi": 220800}, {"date": "2018-08-02", "year": "2018年", "oi": 212500}, {"date": "2018-08-05", "year": "2018年", "oi": 208300}, {"date": "2018-08-07", "year": "2018年", "oi": 210000},
      {"date": "2018-08-10", "year": "2018年", "oi": 216700}, {"date": "2018-08-13", "year": "2018年", "oi": 220800}, {"date": "2018-08-18", "year": "2018年", "oi": 226700}, {"date": "2018-08-20", "year": "2018年", "oi": 235000},
      {"date": "2018-08-22", "year": "2018年", "oi": 241700}, {"date": "2018-08-24", "year": "2018年", "oi": 236000}, {"date": "2018-08-28", "year": "2018年", "oi": 237500}, {"date": "2018-08-31", "year": "2018年", "oi": 241700},
      {"date": "2018-09-01", "year": "2018年", "oi": 225000}, {"date": "2018-09-04", "year": "2018年", "oi": 220800}, {"date": "2018-09-06", "year": "2018年", "oi": 216700}, {"date": "2018-09-09", "year": "2018年", "oi": 220800},
      {"date": "2018-09-11", "year": "2018年", "oi": 216700}, {"date": "2018-09-17", "year": "2018年", "oi": 212500}, {"date": "2018-09-19", "year": "2018年", "oi": 216700}, {"date": "2018-09-24", "year": "2018年", "oi": 216700},
      {"date": "2018-09-27", "year": "2018年", "oi": 204200}, {"date": "2018-09-30", "year": "2018年", "oi": 200000}, {"date": "2018-10-02", "year": "2018年", "oi": 204200}, {"date": "2018-10-05", "year": "2018年", "oi": 206700},
      {"date": "2018-10-07", "year": "2018年", "oi": 212500}, {"date": "2018-10-10", "year": "2018年", "oi": 220800}, {"date": "2018-10-13", "year": "2018年", "oi": 233300}, {"date": "2018-10-15", "year": "2018年", "oi": 237500},
      {"date": "2018-10-18", "year": "2018年", "oi": 258300}, {"date": "2018-10-19", "year": "2018年", "oi": 225000}, {"date": "2018-10-22", "year": "2018年", "oi": 229200}, {"date": "2018-10-24", "year": "2018年", "oi": 225000},
      {"date": "2018-10-27", "year": "2018年", "oi": 250000}, {"date": "2018-10-28", "year": "2018年", "oi": 245800}, {"date": "2018-10-29", "year": "2018年", "oi": 233300}, {"date": "2018-11-01", "year": "2018年", "oi": 225000},
      {"date": "2018-11-04", "year": "2018年", "oi": 220800}, {"date": "2018-11-06", "year": "2018年", "oi": 208300}, {"date": "2018-11-09", "year": "2018年", "oi": 225000}, {"date": "2018-11-10", "year": "2018年", "oi": 233300},
      {"date": "2018-11-13", "year": "2018年", "oi": 220800}, {"date": "2018-11-15", "year": "2018年", "oi": 229200}, {"date": "2018-11-18", "year": "2018年", "oi": 229200}, {"date": "2018-11-19", "year": "2018年", "oi": 241700},
      {"date": "2018-11-21", "year": "2018年", "oi": 266700}, {"date": "2018-11-22", "year": "2018年", "oi": 245800}, {"date": "2018-11-24", "year": "2018年", "oi": 241700}, {"date": "2018-11-27", "year": "2018年", "oi": 225000},
      {"date": "2018-11-30", "year": "2018年", "oi": 208300}, {"date": "2018-12-02", "year": "2018年", "oi": 204200}, {"date": "2018-12-05", "year": "2018年", "oi": 200000}, {"date": "2018-12-07", "year": "2018年", "oi": 195800},
      {"date": "2018-12-10", "year": "2018年", "oi": 191700}, {"date": "2018-12-15", "year": "2018年", "oi": 187500}, {"date": "2018-12-18", "year": "2018年", "oi": 185000}, {"date": "2018-12-23", "year": "2018年", "oi": 185000},
      {"date": "2018-12-26", "year": "2018年", "oi": 183300}, {"date": "2018-12-28", "year": "2018年", "oi": 179200}, {"date": "2018-12-31", "year": "2018年", "oi": 166700},

      {"date": "2019-01-08", "year": "2019年", "oi": 181700}, {"date": "2019-01-09", "year": "2019年", "oi": 179200}, {"date": "2019-01-12", "year": "2019年", "oi": 187500}, {"date": "2019-01-15", "year": "2019年", "oi": 200000},
      {"date": "2019-01-17", "year": "2019年", "oi": 212500}, {"date": "2019-01-20", "year": "2019年", "oi": 225000}, {"date": "2019-01-22", "year": "2019年", "oi": 241700}, {"date": "2019-01-25", "year": "2019年", "oi": 248300},
      {"date": "2019-01-28", "year": "2019年", "oi": 245800}, {"date": "2019-01-30", "year": "2019年", "oi": 235000}, {"date": "2019-02-02", "year": "2019年", "oi": 226700}, {"date": "2019-02-10", "year": "2019年", "oi": 226700},
      {"date": "2019-02-12", "year": "2019年", "oi": 229200}, {"date": "2019-02-15", "year": "2019年", "oi": 240000}, {"date": "2019-02-17", "year": "2019年", "oi": 245800}, {"date": "2019-02-22", "year": "2019年", "oi": 251700},
      {"date": "2019-02-25", "year": "2019年", "oi": 254200}, {"date": "2019-02-27", "year": "2019年", "oi": 248000}, {"date": "2019-03-01", "year": "2019年", "oi": 254200}, {"date": "2019-03-04", "year": "2019年", "oi": 258300},
      {"date": "2019-03-06", "year": "2019年", "oi": 264200}, {"date": "2019-03-09", "year": "2019年", "oi": 254200}, {"date": "2019-03-14", "year": "2019年", "oi": 250000}, {"date": "2019-03-19", "year": "2019年", "oi": 245800},
      {"date": "2019-03-24", "year": "2019年", "oi": 241700}, {"date": "2019-03-27", "year": "2019年", "oi": 235000}, {"date": "2019-04-01", "year": "2019年", "oi": 229200}, {"date": "2019-04-04", "year": "2019年", "oi": 233300},
      {"date": "2019-04-06", "year": "2019年", "oi": 241700}, {"date": "2019-04-09", "year": "2019年", "oi": 248300}, {"date": "2019-04-14", "year": "2019年", "oi": 249000}, {"date": "2019-04-17", "year": "2019年", "oi": 252000},
      {"date": "2019-04-19", "year": "2019年", "oi": 283300}, {"date": "2019-04-22", "year": "2019年", "oi": 266700}, {"date": "2019-04-24", "year": "2019年", "oi": 266700}, {"date": "2019-04-26", "year": "2019年", "oi": 250000},
      {"date": "2019-04-27", "year": "2019年", "oi": 241700}, {"date": "2019-05-01", "year": "2019年", "oi": 250000}, {"date": "2019-05-04", "year": "2019年", "oi": 254200}, {"date": "2019-05-06", "year": "2019年", "oi": 266700},
      {"date": "2019-05-09", "year": "2019年", "oi": 279200}, {"date": "2019-05-11", "year": "2019年", "oi": 291700}, {"date": "2019-05-14", "year": "2019年", "oi": 300000}, {"date": "2019-05-16", "year": "2019年", "oi": 325000},
      {"date": "2019-05-18", "year": "2019年", "oi": 316700}, {"date": "2019-05-20", "year": "2019年", "oi": 320800}, {"date": "2019-05-24", "year": "2019年", "oi": 333300}, {"date": "2019-05-28", "year": "2019年", "oi": 337500},
      {"date": "2019-05-31", "year": "2019年", "oi": 316700}, {"date": "2019-06-02", "year": "2019年", "oi": 337500}, {"date": "2019-06-04", "year": "2019年", "oi": 345800}, {"date": "2019-06-06", "year": "2019年", "oi": 325000},
      {"date": "2019-06-09", "year": "2019年", "oi": 320800}, {"date": "2019-06-11", "year": "2019年", "oi": 316700}, {"date": "2019-06-17", "year": "2019年", "oi": 326700}, {"date": "2019-06-18", "year": "2019年", "oi": 312500},
      {"date": "2019-06-21", "year": "2019年", "oi": 304200}, {"date": "2019-06-26", "year": "2019年", "oi": 295800}, {"date": "2019-06-28", "year": "2019年", "oi": 279200}, {"date": "2019-06-30", "year": "2019年", "oi": 286000},
      {"date": "2019-07-02", "year": "2019年", "oi": 283300}, {"date": "2019-07-03", "year": "2019年", "oi": 316700}, {"date": "2019-07-06", "year": "2019年", "oi": 350000}, {"date": "2019-07-07", "year": "2019年", "oi": 358300},
      {"date": "2019-07-09", "year": "2019年", "oi": 345800}, {"date": "2019-07-11", "year": "2019年", "oi": 366700}, {"date": "2019-07-14", "year": "2019年", "oi": 366700}, {"date": "2019-07-16", "year": "2019年", "oi": 341700},
      {"date": "2019-07-17", "year": "2019年", "oi": 358300}, {"date": "2019-07-19", "year": "2019年", "oi": 395800}, {"date": "2019-07-20", "year": "2019年", "oi": 366700}, {"date": "2019-07-23", "year": "2019年", "oi": 368300},
      {"date": "2019-07-25", "year": "2019年", "oi": 366700}, {"date": "2019-07-27", "year": "2019年", "oi": 358300}, {"date": "2019-07-28", "year": "2019年", "oi": 337500}, {"date": "2019-07-30", "year": "2019年", "oi": 320800},
      {"date": "2019-08-02", "year": "2019年", "oi": 316700}, {"date": "2019-08-04", "year": "2019年", "oi": 315000}, {"date": "2019-08-07", "year": "2019年", "oi": 304200}, {"date": "2019-08-09", "year": "2019年", "oi": 312500},
      {"date": "2019-08-10", "year": "2019年", "oi": 295800}, {"date": "2019-08-11", "year": "2019年", "oi": 304200}, {"date": "2019-08-13", "year": "2019年", "oi": 308300}, {"date": "2019-08-14", "year": "2019年", "oi": 300000},
      {"date": "2019-08-15", "year": "2019年", "oi": 312500}, {"date": "2019-08-17", "year": "2019年", "oi": 308300}
    ]
  },
  "hconcat": [
    {
      "width": 470,
      "height": 245,
      "title": {"text": "图 3：活跃合约基差", "anchor": "start", "frame": "bounds", "offset": -43.5, "baseline": "alphabetic", "fontSize": 18.5, "font": "Noto Sans CJK SC", "fontWeight": "bold", "color": "#C00000"},
      "layer": [
        {
          "data": {"name": "basis"},
          "mark": {"type": "area", "invalid": "break-paths-show-domains", "opacity": 1},
          "encoding": {
            "x": {"field": "date", "type": "temporal", "timeUnit": "utcyearmonthdate",
              "scale": {"type": "utc", "domain": [{"year": 2018, "month": 6, "date": 1, "utc": true}, {"year": 2019, "month": 8, "date": 17, "hours": 14, "utc": true}]},
              "axis": {"values": [{"year": 2018, "month": 6, "date": 1, "utc": true}, {"year": 2018, "month": 9, "date": 1, "utc": true}, {"year": 2018, "month": 12, "date": 1, "utc": true}, {"year": 2019, "month": 3, "date": 1, "utc": true}, {"year": 2019, "month": 6, "date": 1, "utc": true}],
                "format": "%Y-%m-%d", "labelFontSize": 8, "labelColor": "#595959", "labelFlush": false, "labelOverlap": false, "labelPadding": 2,
                "ticks": true, "tickSize": 4, "tickColor": "#BFBFBF", "grid": false, "domain": false,
                "title": "资料来源：wind、浙商期货研究中心", "titleX": -25.3, "titleY": 71.5, "titleAlign": "left", "titleBaseline": "alphabetic",
                "titleFont": "Liberation Serif, Noto Sans CJK SC", "titleFontSize": 18, "titleFontWeight": "normal", "titleColor": "#000000"}},
            "y": {"field": "basis", "type": "quantitative",
              "scale": {"domain": [-1500, 1200], "nice": false, "zero": false},
              "axis": {"orient": "right", "values": [-1500, -1300, -1100, -900, -700, -500, -300, -100, 100, 300, 500, 700, 900, 1100],
                "labelExpr": "datum.value + ''", "grid": false, "domain": false, "ticks": false, "labelPadding": 7, "labelFontSize": 8, "labelColor": "#595959", "labelOverlap": false, "title": null}},
            "fill": {"datum": "基差",
              "scale": {"domain": ["基差"], "range": ["#D4E3B9"]},
              "legend": {"orient": "none", "legendX": 90.3, "legendY": 263.3, "direction": "horizontal", "title": null,
                "symbolType": "M-1,-0.38H1V0.38H-1Z", "symbolSize": 361, "symbolStrokeWidth": 0, "labelFontSize": 8.5, "labelColor": "#595959", "labelOffset": 2}}
          }
        },
        {
          "data": {"name": "futures"},
          "mark": {"type": "line", "strokeWidth": 2.2},
          "encoding": {
            "x": {"field": "date", "type": "temporal", "timeUnit": "utcyearmonthdate"},
            "y": {"field": "price", "type": "quantitative",
              "scale": {"domain": [2500, 6000], "nice": false, "zero": false},
              "axis": {"orient": "left", "values": [2500, 3000, 3500, 4000, 4500, 5000, 5500, 6000], "format": "d", "labelOverlap": false,
                "grid": true, "gridColor": "#D9D9D9", "gridWidth": 1.2, "ticks": false, "domain": false,
                "labelPadding": 8, "labelFontSize": 8, "labelColor": "#595959", "title": null}},
            "stroke": {"datum": "期货收盘价(活跃合约):鸡蛋",
              "scale": {"domain": ["期货收盘价(活跃合约):鸡蛋", "平均价:鸡蛋:山东:济南"], "range": ["#4A7EBB", "#C0504D"]},
              "legend": {"orient": "none", "legendX": 143.7, "legendY": 263.3, "direction": "horizontal", "title": null,
                "symbolType": "stroke", "symbolSize": 361, "symbolStrokeWidth": 2.2, "labelFontSize": 8.5, "labelColor": "#595959",
                "labelOffset": 2, "columnPadding": 16}}
          }
        },
        {
          "data": {"name": "spot"},
          "mark": {"type": "line", "strokeWidth": 2.2},
          "encoding": {
            "x": {"field": "date", "type": "temporal", "timeUnit": "utcyearmonthdate"},
            "y": {"field": "price", "type": "quantitative", "scale": {"domain": [2500, 6000], "nice": false, "zero": false}, "axis": null},
            "stroke": {"datum": "平均价:鸡蛋:山东:济南"}
          }
        },
        {
          "data": {"values": [{}]},
          "mark": {"type": "rule", "color": "#000000", "strokeWidth": 1.5},
          "encoding": {
            "x": {"datum": {"year": 2018, "month": 5, "date": 7, "hours": 5, "minutes": 40, "utc": true}, "type": "temporal"},
            "x2": {"datum": {"year": 2019, "month": 9, "date": 17, "hours": 8, "minutes": 40, "utc": true}},
            "y": {"datum": 6150, "type": "quantitative", "scale": {"domain": [2500, 6000], "nice": false, "zero": false}, "axis": null}
          }
        },
        {
          "data": {"values": [{}]},
          "mark": {"type": "rule", "color": "#000000", "strokeWidth": 1.5},
          "encoding": {
            "x": {"datum": {"year": 2018, "month": 5, "date": 7, "hours": 5, "minutes": 40, "utc": true}, "type": "temporal"},
            "x2": {"datum": {"year": 2019, "month": 9, "date": 17, "hours": 8, "minutes": 40, "utc": true}},
            "y": {"datum": 1821.4, "type": "quantitative", "scale": {"domain": [2500, 6000], "nice": false, "zero": false}, "axis": null}
          }
        },
        {
          "data": {"values": [{}]},
          "mark": {"type": "rule", "color": "#C8C8C8", "strokeWidth": 1, "strokeDash": [3, 2]},
          "encoding": {
            "x": {"datum": {"year": 2018, "month": 5, "date": 7, "hours": 5, "minutes": 40, "utc": true}, "type": "temporal"},
            "y": {"datum": 6678.6, "type": "quantitative", "scale": {"domain": [2500, 6000], "nice": false, "zero": false}, "axis": null},
            "y2": {"datum": 1192.9}
          }
        },
        {
          "data": {"values": [{}]},
          "mark": {"type": "rule", "color": "#C8C8C8", "strokeWidth": 1, "strokeDash": [3, 2]},
          "encoding": {
            "x": {"datum": {"year": 2019, "month": 9, "date": 17, "hours": 8, "minutes": 40, "utc": true}, "type": "temporal"},
            "y": {"datum": 6678.6, "type": "quantitative", "scale": {"domain": [2500, 6000], "nice": false, "zero": false}, "axis": null},
            "y2": {"datum": 1192.9}
          }
        },
        {
          "data": {"values": [{}]},
          "mark": {"type": "rule", "color": "#C8C8C8", "strokeWidth": 1, "strokeDash": [3, 2]},
          "encoding": {
            "x": {"datum": {"year": 2018, "month": 5, "date": 7, "hours": 5, "minutes": 40, "utc": true}, "type": "temporal"},
            "x2": {"datum": {"year": 2019, "month": 10, "date": 14, "hours": 16, "utc": true}},
            "y": {"datum": 6678.6, "type": "quantitative", "scale": {"domain": [2500, 6000], "nice": false, "zero": false}, "axis": null}
          }
        },
        {
          "data": {"values": [{}]},
          "mark": {"type": "rule", "color": "#C8C8C8", "strokeWidth": 1, "strokeDash": [3, 2]},
          "encoding": {
            "x": {"datum": {"year": 2018, "month": 5, "date": 7, "hours": 5, "minutes": 40, "utc": true}, "type": "temporal"},
            "x2": {"datum": {"year": 2019, "month": 10, "date": 14, "hours": 16, "utc": true}},
            "y": {"datum": 1192.9, "type": "quantitative", "scale": {"domain": [2500, 6000], "nice": false, "zero": false}, "axis": null}
          }
        },
        {
          "data": {"values": [{}]},
          "mark": {"type": "rule", "color": "#C8C8C8", "strokeWidth": 1, "strokeDash": [3, 2]},
          "encoding": {
            "x": {"datum": {"year": 2019, "month": 9, "date": 17, "hours": 8, "minutes": 40, "utc": true}, "type": "temporal"},
            "x2": {"datum": {"year": 2019, "month": 10, "date": 14, "hours": 16, "utc": true}},
            "y": {"datum": 6150, "type": "quantitative", "scale": {"domain": [2500, 6000], "nice": false, "zero": false}, "axis": null}
          }
        },
        {
          "data": {"values": [{}]},
          "mark": {"type": "rule", "color": "#C8C8C8", "strokeWidth": 1, "strokeDash": [3, 2]},
          "encoding": {
            "x": {"datum": {"year": 2019, "month": 9, "date": 17, "hours": 8, "minutes": 40, "utc": true}, "type": "temporal"},
            "x2": {"datum": {"year": 2019, "month": 10, "date": 14, "hours": 16, "utc": true}},
            "y": {"datum": 1821.4, "type": "quantitative", "scale": {"domain": [2500, 6000], "nice": false, "zero": false}, "axis": null}
          }
        }
      ],
      "resolve": {"scale": {"y": "independent"}}
    },
    {
      "width": 469,
      "height": 245,
      "title": {"text": "图 4：鸡蛋各合约总持仓", "anchor": "start", "frame": "bounds", "offset": -43.5, "baseline": "alphabetic", "fontSize": 18.5, "font": "Noto Sans CJK SC", "fontWeight": "bold", "color": "#C00000"},
      "resolve": {"axis": {"x": "independent", "y": "independent"}},
      "layer": [
        {
          "data": {"name": "oi"},
          "mark": {"type": "line", "strokeWidth": 1.6},
          "encoding": {
            "x": {"field": "date", "type": "temporal", "timeUnit": "utcmonthdate",
              "scale": {"type": "utc", "domain": [{"year": 2012, "month": 1, "date": 1, "utc": true}, {"year": 2012, "month": 12, "date": 31, "utc": true}]},
              "axis": {"orient": "bottom", "values": [{"year": 2012, "month": 1, "date": 1, "utc": true}, {"year": 2012, "month": 2, "date": 1, "utc": true}, {"year": 2012, "month": 3, "date": 1, "utc": true}, {"year": 2012, "month": 4, "date": 1, "utc": true}, {"year": 2012, "month": 5, "date": 1, "utc": true}, {"year": 2012, "month": 6, "date": 1, "utc": true}, {"year": 2012, "month": 7, "date": 1, "utc": true}, {"year": 2012, "month": 8, "date": 1, "utc": true}, {"year": 2012, "month": 9, "date": 1, "utc": true}, {"year": 2012, "month": 10, "date": 1, "utc": true}, {"year": 2012, "month": 11, "date": 1, "utc": true}, {"year": 2012, "month": 12, "date": 1, "utc": true}, {"year": 2012, "month": 12, "date": 31, "utc": true}],
                "format": "%-m月%-d日", "labelExpr": "utcdate(datum.value) == 31 ? '' : datum.label",
                "labelFontSize": 9.5, "labelColor": "#595959", "labelFlush": false, "labelOverlap": false, "labelPadding": 3,
                "ticks": true, "tickSize": 4, "tickColor": "#BFBFBF", "grid": false, "domain": false,
                "title": "资料来源：wind、浙商期货研究中心", "titleX": -46.6, "titleY": 71.5, "titleAlign": "left", "titleBaseline": "alphabetic",
                "titleFont": "Liberation Serif, Noto Sans CJK SC", "titleFontSize": 18, "titleFontWeight": "normal", "titleColor": "#000000"}},
            "y": {"field": "oi", "type": "quantitative",
              "scale": {"domain": [0, 609500], "nice": false, "zero": true},
              "axis": {"orient": "left", "values": [0, 100000, 200000, 300000, 400000, 500000, 600000], "labelExpr": "datum.value + ''", "labelOverlap": false,
                "grid": true, "gridColor": "#D9D9D9", "gridWidth": 1.2, "ticks": false, "domain": false,
                "labelPadding": 10, "labelFontSize": 9.5, "labelColor": "#595959", "title": null}},
            "color": {"field": "year", "type": "nominal",
              "scale": {"domain": ["2015年", "2016年", "2017年", "2018年", "2019年"], "range": ["#D00000", "#0070C0", "#00B050", "#7030A0", "#000000"]},
              "legend": {"orient": "none", "legendX": 51.3, "legendY": 268.6, "direction": "horizontal", "title": null,
                "symbolType": "stroke", "symbolSize": 529, "symbolStrokeWidth": 2, "labelFontSize": 9.5, "labelColor": "#595959",
                "labelOffset": 3, "columnPadding": 13}}
          }
        },
        {
          "data": {"values": [{}]},
          "mark": {"type": "rule", "color": "#000000", "strokeWidth": 1.5},
          "encoding": {
            "x": {"datum": {"year": 2011, "month": 11, "date": 24, "hours": 9, "minutes": 50, "utc": true}, "type": "temporal", "axis": null},
            "x2": {"datum": {"year": 2013, "month": 1, "date": 9, "hours": 21, "utc": true}},
            "y": {"datum": 635622, "type": "quantitative", "axis": null}
          }
        },
        {
          "data": {"values": [{}]},
          "mark": {"type": "rule", "color": "#000000", "strokeWidth": 1.5},
          "encoding": {
            "x": {"datum": {"year": 2011, "month": 11, "date": 24, "hours": 9, "minutes": 50, "utc": true}, "type": "temporal", "axis": null},
            "x2": {"datum": {"year": 2013, "month": 1, "date": 9, "hours": 21, "utc": true}},
            "y": {"datum": -118170, "type": "quantitative", "axis": null}
          }
        },
        {
          "data": {"values": [{}]},
          "mark": {"type": "rule", "color": "#C8C8C8", "strokeWidth": 1, "strokeDash": [3, 2]},
          "encoding": {
            "x": {"datum": {"year": 2011, "month": 11, "date": 24, "hours": 9, "minutes": 50, "utc": true}, "type": "temporal", "axis": null},
            "y": {"datum": 727669, "type": "quantitative", "axis": null},
            "y2": {"datum": -227631}
          }
        },
        {
          "data": {"values": [{}]},
          "mark": {"type": "rule", "color": "#C8C8C8", "strokeWidth": 1, "strokeDash": [3, 2]},
          "encoding": {
            "x": {"datum": {"year": 2013, "month": 1, "date": 9, "hours": 21, "utc": true}, "type": "temporal", "axis": null},
            "y": {"datum": 727669, "type": "quantitative", "axis": null},
            "y2": {"datum": -227631}
          }
        },
        {
          "data": {"values": [{}]},
          "mark": {"type": "rule", "color": "#C8C8C8", "strokeWidth": 1, "strokeDash": [3, 2]},
          "encoding": {
            "x": {"datum": {"year": 2011, "month": 11, "date": 24, "hours": 9, "minutes": 50, "utc": true}, "type": "temporal", "axis": null},
            "x2": {"datum": {"year": 2013, "month": 1, "date": 9, "hours": 21, "utc": true}},
            "y": {"datum": 727669, "type": "quantitative", "axis": null}
          }
        },
        {
          "data": {"values": [{}]},
          "mark": {"type": "rule", "color": "#C8C8C8", "strokeWidth": 1, "strokeDash": [3, 2]},
          "encoding": {
            "x": {"datum": {"year": 2011, "month": 11, "date": 24, "hours": 9, "minutes": 50, "utc": true}, "type": "temporal", "axis": null},
            "x2": {"datum": {"year": 2013, "month": 1, "date": 9, "hours": 21, "utc": true}},
            "y": {"datum": -227631, "type": "quantitative", "axis": null}
          }
        }
      ]
    }
  ]
}
